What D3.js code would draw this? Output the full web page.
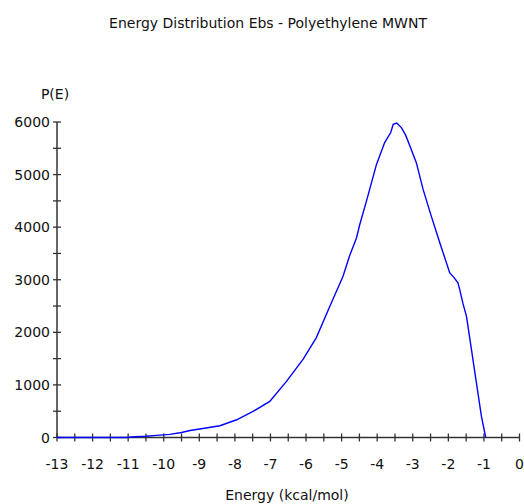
<!DOCTYPE html>
<html>
<head>
<meta charset="utf-8">
<script src="https://cdn.jsdelivr.net/npm/d3@7"></script>
<style>
  body { margin: 0; background: #fff; }
  text { font-family: "DejaVu Sans", Verdana, sans-serif; fill: #111; }
</style>
</head>
<body>
<script>
// Energy values (kcal/mol) and P(E)
const energy = [-13, -11.05, -10.8, -10.5, -10.2, -9.83, -9.5, -9.26, -8.9, -8.42,
  -7.95, -7.49, -7.02, -6.55, -6.08, -5.71, -5.33, -4.96, -4.78, -4.58,
  -4.49, -4.30, -4.02, -3.79, -3.62, -3.55, -3.45, -3.32, -3.2, -3.08,
  -2.90, -2.71, -2.48, -2.24, -1.96, -1.85, -1.73, -1.68, -1.59, -1.49,
  -1.35, -1.21, -1.07, -0.95];
const prob = [0, 0, 15, 25, 40, 60, 95, 133, 170, 223,
  337, 495, 686, 1067, 1490, 1900, 2495, 3067, 3448, 3800,
  4050, 4500, 5194, 5608, 5800, 5956, 5980, 5893, 5750, 5543,
  5226, 4718, 4210, 3703, 3131, 3050, 2941, 2813, 2550, 2305,
  1670, 1036, 400, 0];
const yTickLabels = [0, 1000, 2000, 3000, 4000, 5000, 6000];
const xTickLabels = [-13, -12, -11, -10, -9, -8, -7, -6, -5, -4, -3, -2, -1, 0];

const width = 524, height = 504;
const margin = { top: 122, right: 5, bottom: 66, left: 57 };

const svg = d3.select("body").append("svg")
    .attr("width", width)
    .attr("height", height);

const x = d3.scaleLinear().domain([-13, 0]).range([margin.left, 519.5]);
const y = d3.scaleLinear().domain([0, 6000]).range([437.5, margin.top]);

// Title and axis titles
svg.append("text")
    .attr("x", 268).attr("y", 28)
    .attr("text-anchor", "middle")
    .style("font-size", "14px")
    .text("Energy Distribution Ebs - Polyethylene MWNT");

svg.append("text")
    .attr("x", 55).attr("y", 99)
    .attr("text-anchor", "middle")
    .style("font-size", "14px")
    .text("P(E)");

svg.append("text")
    .attr("x", 287).attr("y", 500)
    .attr("text-anchor", "middle")
    .style("font-size", "14px")
    .text("Energy (kcal/mol)");

const axisColor = "#333";

// y axis
const yAxis = svg.append("g");
yAxis.append("line")
    .attr("x1", x(-13)).attr("x2", x(-13))
    .attr("y1", y(0)).attr("y2", y(6000))
    .attr("stroke", axisColor).attr("stroke-width", 1.5);
yAxis.selectAll(".ytick")
    .data(d3.range(0, 6001, 500))
    .enter().append("line")
    .attr("x1", x(-13) - 4).attr("x2", x(-13) + 4)
    .attr("y1", d => y(d)).attr("y2", d => y(d))
    .attr("stroke", axisColor).attr("stroke-width", 1.3);
yAxis.selectAll(".ylab")
    .data(yTickLabels)
    .enter().append("text")
    .attr("x", 50).attr("y", d => y(d))
    .attr("dy", "0.36em")
    .attr("text-anchor", "end")
    .style("font-size", "14px")
    .text(d => d);

// x axis
const xAxis = svg.append("g");
xAxis.append("line")
    .attr("x1", x(-13)).attr("x2", x(0))
    .attr("y1", y(0)).attr("y2", y(0))
    .attr("stroke", axisColor).attr("stroke-width", 1.5);
xAxis.selectAll(".xtick")
    .data(d3.range(-13, 0.01, 0.5))
    .enter().append("line")
    .attr("x1", d => x(d)).attr("x2", d => x(d))
    .attr("y1", y(0) - 4).attr("y2", y(0) + 4)
    .attr("stroke", axisColor).attr("stroke-width", 1.3);
xAxis.selectAll(".xlab")
    .data(xTickLabels)
    .enter().append("text")
    .attr("x", d => x(d)).attr("y", 469)
    .attr("text-anchor", "middle")
    .style("font-size", "14px")
    .text(d => d);

// curve
const points = energy.map((e, i) => [e, prob[i]]);
svg.append("path")
    .datum(points)
    .attr("fill", "none")
    .attr("stroke", "#0000ff")
    .attr("stroke-width", 1.4)
    .attr("d", d3.line().x(d => x(d[0])).y(d => y(d[1])));
</script>
</body>
</html>
